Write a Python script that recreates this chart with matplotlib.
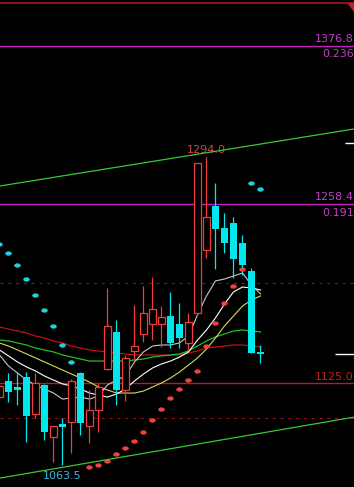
import matplotlib
matplotlib.use('Agg')
from matplotlib import pyplot as plt
from matplotlib.path import Path
from matplotlib.transforms import Affine2D

# candles, oldest first (price units)
opens = [1114.5, 1126.5, 1122.0, 1129.5, 1101.8, 1123.5, 1084.7, 1094.4, 1095.9, 1132.5,
         1092.9, 1104.8, 1135.5, 1163.1, 1119.8, 1148.9, 1161.6, 1169.1, 1169.1, 1175.0,
         1169.1, 1154.9, 1177.3, 1224.4, 1257.2, 1240.8, 1244.5, 1229.6, 1208.7, 1148.2]
highs = [1123.5, 1132.5, 1133.2, 1133.2, 1132.5, 1124.3, 1092.9, 1098.9, 1128.0, 1133.2,
         1119.8, 1125.0, 1196.0, 1172.1, 1145.9, 1183.3, 1197.5, 1204.2, 1182.5, 1193.0,
         1184.8, 1177.3, 1289.3, 1294.0, 1274.4, 1252.0, 1249.0, 1235.6, 1210.9, 1153.4]
lows = [1113.8, 1110.8, 1108.6, 1080.9, 1098.9, 1082.4, 1066.0, 1063.5, 1072.7, 1086.2,
        1080.2, 1088.4, 1134.7, 1108.6, 1111.6, 1142.2, 1155.6, 1157.1, 1151.9, 1151.1,
        1151.1, 1149.7, 1176.0, 1218.4, 1210.2, 1222.1, 1203.4, 1205.7, 1147.4, 1139.9]
closes = [1122.8, 1118.3, 1119.8, 1100.3, 1125.0, 1088.4, 1092.9, 1092.1, 1126.5, 1095.1,
          1104.8, 1122.0, 1167.6, 1119.8, 1143.7, 1152.6, 1177.3, 1180.3, 1174.3, 1154.9,
          1158.6, 1170.6, 1289.3, 1249.0, 1240.0, 1229.6, 1217.6, 1213.1, 1147.4, 1146.7]

# moving averages
ma_fast = [1145.9, 1137.7, 1132.5, 1127.2, 1123.5, 1120.5, 1117.5, 1113.0, 1113.8, 1114.5,
           1113.0, 1115.3, 1123.5, 1127.2, 1130.2, 1140.7, 1148.2, 1152.6, 1153.4, 1153.4,
           1154.9, 1160.1, 1175.8, 1190.0, 1201.2, 1202.7, 1204.9, 1207.2, 1198.2, 1191.5]
ma_slow = [1149.7, 1145.2, 1140.7, 1137.0, 1134.0, 1130.2, 1127.2, 1124.3, 1122.8, 1120.5,
           1117.5, 1116.0, 1114.5, 1116.8, 1120.5, 1126.5, 1131.7, 1136.2, 1139.2, 1141.4,
           1144.4, 1148.2, 1157.1, 1164.6, 1173.6, 1184.0, 1193.0, 1196.7, 1196.0, 1194.5]
ma_yellow = [1154.9, 1152.6, 1149.7, 1146.7, 1143.7, 1140.7, 1137.7, 1134.7, 1131.7, 1128.7,
             1125.7, 1122.0, 1119.8, 1117.5, 1117.5, 1117.5, 1119.0, 1122.0, 1125.0, 1128.7,
             1133.2, 1138.4, 1143.7, 1150.4, 1158.6, 1167.6, 1175.0, 1182.5, 1187.0, 1190.0]
ma_green = [1157.1, 1156.4, 1154.9, 1153.4, 1151.1, 1149.7, 1148.2, 1145.9, 1144.4, 1142.9,
            1141.4, 1141.4, 1141.4, 1141.4, 1141.4, 1142.2, 1142.9, 1144.4, 1145.2, 1145.9,
            1146.7, 1148.9, 1152.6, 1156.4, 1159.4, 1161.6, 1163.8, 1164.6, 1163.8, 1163.1]
ma_red = [1166.8, 1165.3, 1163.8, 1162.4, 1160.1, 1158.6, 1156.4, 1154.9, 1152.6, 1151.1,
          1149.7, 1148.9, 1148.2, 1147.4, 1146.7, 1145.9, 1145.9, 1145.9, 1145.9, 1145.9,
          1145.9, 1147.4, 1148.9, 1151.1, 1151.9, 1152.6, 1153.4, 1153.4, 1152.6, 1151.9]

# parabolic SAR (True = above price, drawn cyan)
sar = [1228.8, 1222.1, 1213.1, 1202.7, 1190.7, 1179.5, 1167.6, 1153.4, 1140.7, 1130.2,
       1062.3, 1063.7, 1066.7, 1072.0, 1076.4, 1081.7, 1088.4, 1097.4, 1105.6, 1113.8,
       1120.5, 1127.2, 1134.0, 1152.6, 1169.8, 1184.8, 1197.5, 1210.2, 1274.4, 1269.9]
sar_above = [True] * 10 + [False] * 18 + [True] * 2

# channel lines (index, price)
channel_x = [0, 40]
channel_upper = [1272.1, 1315.4]
channel_lower = [1053.9, 1100.2]

fib_levels = [1376.8, 1258.4]
fib_ratios = ['0.236', '0.191']
support_level = 1125.0
dashed_levels = [1199.7, 1098.9]
top_level = 1408.9
marker_levels = [1304.3, 1146.7]
marker_starts = [38.4, 37.3]
high_label = (23, 1294.0)
low_label = (7, 1063.5)

CYAN = '#00e8ee'
RED = '#f03c3c'


def main():
    fig = plt.figure(figsize=(3.54, 4.87), dpi=100, facecolor='black')
    ax = fig.add_axes([0, 0, 1, 1])
    ax.set_facecolor('black')
    ax.set_xlim(0.056, 39.39)
    ax.set_ylim(1047.3, 1411.1)
    ax.axis('off')

    # horizontal levels
    ax.axhline(top_level, color='#a01818', lw=1.2)
    for lvl in fib_levels:
        ax.axhline(lvl, color='#c020c0', lw=1.0, zorder=1)
    ax.axhline(support_level, color='#c01818', lw=1.0, zorder=1)
    for lvl in dashed_levels:
        ax.axhline(lvl, color='#901010', lw=0.8, ls=(0, (3, 4)), zorder=1)

    # channel
    ax.plot(channel_x, channel_upper, color='#38c838', lw=0.9, zorder=5)
    ax.plot(channel_x, channel_lower, color='#38c838', lw=0.9, zorder=5)

    # moving averages
    idx = list(range(len(opens)))
    ax.plot(idx, ma_red, color='#c01010', lw=0.9, zorder=3)
    ax.plot(idx, ma_green, color='#20c020', lw=0.9, zorder=3)
    ax.plot(idx, ma_yellow, color='#d8d860', lw=0.8, zorder=3)
    ax.plot(idx, ma_slow, color='#ffffff', lw=0.8, zorder=3)
    ax.plot(idx, ma_fast, color='#c8c8c8', lw=0.8, zorder=3)

    # candles
    for i, (o, h, l, c) in enumerate(zip(opens, highs, lows, closes)):
        if c >= o:
            ax.vlines(i, c, h, color=RED, lw=0.9, zorder=4)
            ax.vlines(i, l, o, color=RED, lw=0.9, zorder=4)
            ax.bar(i, c - o, bottom=o, width=0.72, facecolor='black',
                   edgecolor=RED, linewidth=0.9, zorder=4)
        else:
            ax.vlines(i, l, h, color=CYAN, lw=0.9, zorder=4)
            ax.bar(i, o - c, bottom=c, width=0.78, color=CYAN, linewidth=0, zorder=4)

    # SAR dots (flat ellipses)
    dot = Path.unit_circle().transformed(Affine2D().scale(1.5, 1.0))
    for i, (v, up) in enumerate(zip(sar, sar_above)):
        ax.scatter(i, v, s=22, marker=dot, color='#20d0e0' if up else '#f04040',
                   lw=0, zorder=4)

    # price labels
    for lvl, ratio in zip(fib_levels, fib_ratios):
        ax.annotate(f'{lvl:.1f}', xy=(1.0, lvl), xycoords=('axes fraction', 'data'),
                    xytext=(0, 1.5), textcoords='offset points', color='#c040c0',
                    fontsize=8, ha='right', va='bottom')
        ax.annotate(ratio, xy=(1.0, lvl), xycoords=('axes fraction', 'data'),
                    xytext=(0, -2.5), textcoords='offset points', color='#c040c0',
                    fontsize=8, ha='right', va='top')
    ax.annotate(f'{support_level:.1f}', xy=(1.0, support_level),
                xycoords=('axes fraction', 'data'), xytext=(0, 0.5),
                textcoords='offset points', color='#c02020',
                fontsize=8, ha='right', va='bottom')
    ax.annotate(f'{high_label[1]:.1f}', xy=high_label, xytext=(0, 1), textcoords='offset points',
                color='#d04848', fontsize=8, ha='center', va='bottom')
    ax.annotate(f'{low_label[1]:.1f}', xy=low_label, xytext=(0, -4), textcoords='offset points',
                color='#40b8e0', fontsize=8, ha='center', va='top')

    # current price markers
    for lvl, start in zip(marker_levels, marker_starts):
        ax.hlines(lvl, start, 39.39, color='white', lw=1.0, zorder=5)

    # corner triangle
    ax.fill([0.982, 1.0, 1.0], [0.994, 0.994, 0.978], color='#c02020',
            transform=ax.transAxes, zorder=6)

    fig.savefig('out.png', dpi=100, facecolor='black')
    plt.close(fig)


if __name__ == '__main__':
    main()
